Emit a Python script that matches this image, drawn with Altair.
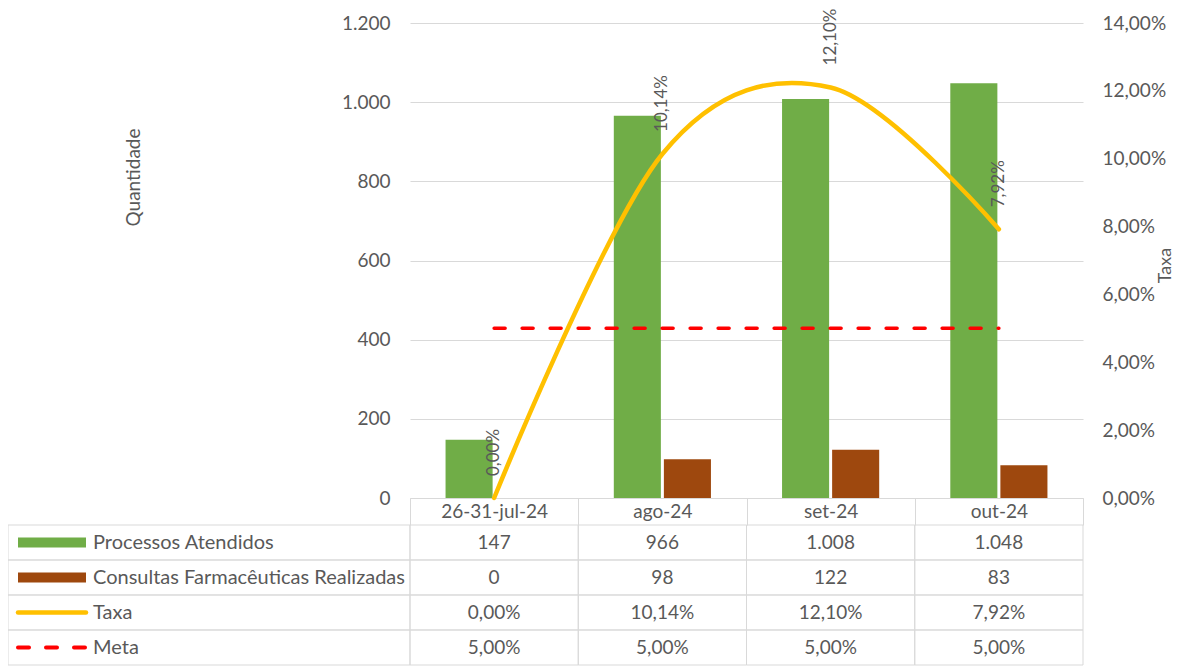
import altair as alt
import pandas as pd

# ---------------- data ----------------
cats = ["26-31-jul-24", "ago-24", "set-24", "out-24"]
processos = [147, 966, 1008, 1048]
consultas = [0, 98, 122, 83]
taxa = [0.0, 0.1014, 0.1210, 0.0792]
meta = [0.05, 0.05, 0.05, 0.05]

S_P = "Processos Atendidos"
S_C = "Consultas Farmacêuticas Realizadas"
S_T = "Taxa"
S_M = "Meta"
series_names = [S_P, S_C, S_T, S_M]

left_ticks = [0, 200, 400, 600, 800, 1000, 1200]
right_ticks = [0.0, 0.02, 0.04, 0.06, 0.08, 0.10, 0.12, 0.14]

# ---------------- style ----------------
FONT = "Lato"
TXT = "#595959"
GRID = "#D9D9D9"
GREEN = "#70AD47"
BROWN = "#9E480E"
YELLOW = "#FFC000"
RED = "#FF0000"
FS = 19


def fmt_int(v):
    return f"{v:,}".replace(",", ".")


def fmt_pct(v):
    return f"{v * 100:.2f}".replace(".", ",") + "%"


bars_df = pd.DataFrame(
    [{"cat": c, "serie": S_P, "valor": v} for c, v in zip(cats, processos)]
    + [{"cat": c, "serie": S_C, "valor": v} for c, v in zip(cats, consultas)]
)
line_df = pd.DataFrame({"cat": cats, "pct": taxa, "label": [fmt_pct(v) for v in taxa]})
meta_df = pd.DataFrame({"cat": cats, "pct": meta})

table_rows = []
for c, p, k, t, m in zip(cats, processos, consultas, taxa, meta):
    table_rows.append({"cat": c, "row": S_P, "txt": fmt_int(p)})
    table_rows.append({"cat": c, "row": S_C, "txt": fmt_int(k)})
    table_rows.append({"cat": c, "row": S_T, "txt": fmt_pct(t)})
    table_rows.append({"cat": c, "row": S_M, "txt": fmt_pct(m)})
table_df = pd.DataFrame(table_rows)
legend_df = pd.DataFrame({"row": series_names})

# ---------------- shared encodings ----------------
x_enc = alt.X(
    "cat:N",
    sort=cats,
    scale=alt.Scale(domain=cats, paddingInner=0, paddingOuter=0),
    axis=alt.Axis(
        title=None, labelAngle=0, grid=False,
        domainColor=GRID, domainWidth=1,
        tickColor=GRID, tickWidth=1, tickSize=27, tickBand="extent",
        labelPadding=-13.5, labelBaseline="middle", labelAlign="center",
        labelFont=FONT, labelFontSize=FS, labelColor=TXT,
    ),
)

y_left = alt.Y(
    "valor:Q",
    scale=alt.Scale(domain=[0, 1200], nice=False),
    axis=alt.Axis(
        values=left_ticks, grid=True, gridColor=GRID, gridWidth=1,
        domain=False, ticks=False, labelPadding=20,
        labelExpr="replace(format(datum.value, ','), ',', '.')",
        labelFont=FONT, labelFontSize=FS, labelColor=TXT,
        title="Quantidade", titleFont=FONT, titleFontSize=FS, titleFontWeight="normal",
        titleColor=TXT, titleAngle=270, titleX=-277, titleY=154,
        titleAlign="center", titleBaseline="middle",
    ),
)

y_right = alt.Y(
    "pct:Q",
    scale=alt.Scale(domain=[0, 0.14], nice=False),
    axis=alt.Axis(
        orient="right", values=right_ticks, grid=False,
        domain=False, ticks=False, labelPadding=19,
        labelExpr="replace(format(datum.value * 100, '.2f'), '.', ',') + '%'",
        labelFont=FONT, labelFontSize=FS, labelColor=TXT,
        title="Taxa", titleFont=FONT, titleFontSize=18, titleFontWeight="normal",
        titleColor=TXT, titleAngle=270, titleX=82, titleY=242,
        titleAlign="center", titleBaseline="middle",
    ),
)

y_row = alt.Y(
    "row:N",
    sort=series_names,
    scale=alt.Scale(domain=series_names, range=[502, 642], paddingInner=0, paddingOuter=0),
    axis=None,
)

# ---------------- main plot ----------------
bars = alt.Chart(bars_df).mark_bar().encode(
    x=x_enc,
    xOffset=alt.XOffset(
        "serie:N", sort=[S_P, S_C],
        scale=alt.Scale(domain=[S_P, S_C], paddingInner=0.06, paddingOuter=0.71),
    ),
    y=y_left,
    color=alt.Color("serie:N", scale=alt.Scale(domain=[S_P, S_C], range=[GREEN, BROWN]), legend=None),
)

line = alt.Chart(line_df).mark_line(
    color=YELLOW, strokeWidth=4.5, interpolate="cardinal", strokeCap="round"
).encode(x=x_enc, y=y_right)

meta_line = alt.Chart(meta_df).mark_line(
    color=RED, strokeWidth=3.5, strokeDash=[11, 17], strokeCap="round"
).encode(x=x_enc, y=y_right)

labels = alt.Chart(line_df).mark_text(
    angle=270, align="left", baseline="middle", dx=22, font=FONT, fontSize=17, color=TXT
).encode(x=x_enc, y=y_right, text="label:N")

right_layer = alt.layer(meta_line, line, labels)

# ---------------- data table ----------------
cells = alt.Chart(table_df).mark_rect(
    fill="white", fillOpacity=0, stroke=GRID, strokeWidth=1
).encode(x=x_enc, y=y_row)

leg_cells = alt.Chart(legend_df).mark_rect(
    fill="white", fillOpacity=0, stroke=GRID, strokeWidth=1
).encode(x=alt.value(-402), x2=alt.value(0), y=y_row)

cell_text = alt.Chart(table_df).mark_text(
    font=FONT, fontSize=FS, color=TXT, baseline="middle", align="center"
).encode(x=x_enc, y=y_row, text="txt:N")

leg_text = alt.Chart(legend_df).mark_text(
    font=FONT, fontSize=20, color=TXT, baseline="middle", align="left"
).encode(x=alt.value(-317), y=y_row, text="row:N")

sw_p = alt.Chart(legend_df).transform_filter(alt.datum.row == S_P).mark_rule(
    color=GREEN, strokeWidth=10
).encode(x=alt.value(-392), x2=alt.value(-324), y=y_row)

sw_c = alt.Chart(legend_df).transform_filter(alt.datum.row == S_C).mark_rule(
    color=BROWN, strokeWidth=10
).encode(x=alt.value(-392), x2=alt.value(-324), y=y_row)

sw_t = alt.Chart(legend_df).transform_filter(alt.datum.row == S_T).mark_rule(
    color=YELLOW, strokeWidth=4.5, strokeCap="round"
).encode(x=alt.value(-392), x2=alt.value(-324), y=y_row)

sw_m = alt.Chart(legend_df).transform_filter(alt.datum.row == S_M).mark_rule(
    color=RED, strokeWidth=4, strokeCap="round", strokeDash=[11, 17]
).encode(x=alt.value(-392), x2=alt.value(-322), y=y_row)

table_layer = alt.layer(cells, leg_cells, cell_text, leg_text, sw_p, sw_c, sw_t, sw_m)

chart = (
    alt.layer(bars, right_layer, table_layer)
    .resolve_scale(y="independent")
    .properties(
        width=673,
        height=475,
        autosize=alt.AutoSizeParams(type="none"),
        padding={"left": 402, "top": 15, "right": 92, "bottom": 168},
    )
    .configure(font=FONT)
    .configure_view(strokeWidth=0)
)

chart.save("out.html", embed_options={"renderer": "svg", "actions": False})
